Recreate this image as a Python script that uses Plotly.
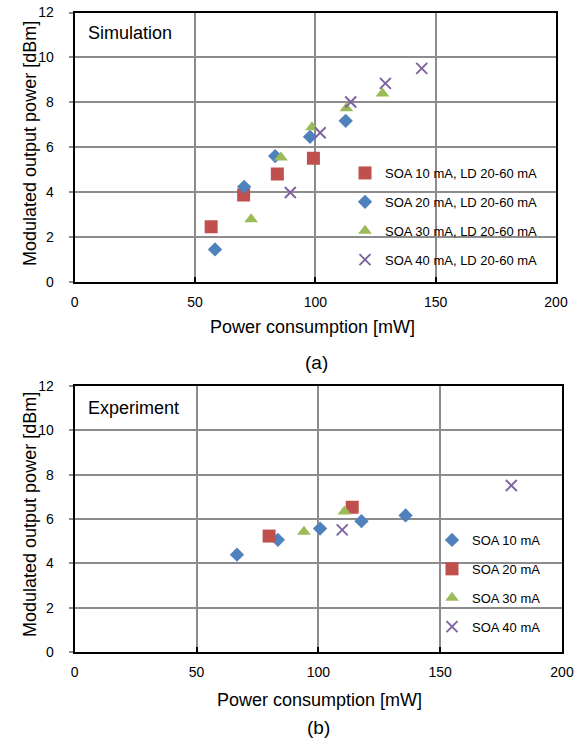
import plotly.graph_objects as go

# ---------------- data: (a) Simulation ----------------
sim_soa10_x = [56.7, 70.2, 84.2, 99.2]
sim_soa10_y = [2.45, 3.86, 4.80, 5.50]
sim_soa20_x = [58.3, 70.4, 83.3, 97.8, 112.6]
sim_soa20_y = [1.44, 4.23, 5.60, 6.46, 7.17]
sim_soa30_x = [73.3, 85.7, 98.6, 112.9, 127.9]
sim_soa30_y = [2.78, 5.54, 6.88, 7.73, 8.39]
sim_soa40_x = [89.6, 102.0, 114.7, 129.1, 144.2]
sim_soa40_y = [3.98, 6.64, 8.01, 8.84, 9.51]

# ---------------- data: (b) Experiment ----------------
exp_soa10_x = [66.6, 83.4, 100.7, 117.7, 135.8]
exp_soa10_y = [4.39, 5.06, 5.57, 5.90, 6.16]
exp_soa20_x = [79.8, 113.9]
exp_soa20_y = [5.23, 6.53]
exp_soa30_x = [94.1, 110.7]
exp_soa30_y = [5.42, 6.34]
exp_soa40_x = [109.8, 179.2]
exp_soa40_y = [5.51, 7.51]

sim_names = ["SOA 10 mA, LD 20-60 mA", "SOA 20 mA, LD 20-60 mA",
             "SOA 30 mA, LD 20-60 mA", "SOA 40 mA, LD 20-60 mA"]
exp_names = ["SOA 10 mA", "SOA 20 mA", "SOA 30 mA", "SOA 40 mA"]

x_ticks = [0, 50, 100, 150, 200]
y_ticks = [0, 2, 4, 6, 8, 10, 12]

x_title = "Power consumption [mW]"
y_title = "Modulated output power [dBm]"

RED = "#C0504D"
BLUE = "#4F81BD"
GREEN = "#9BBB59"
PURPLE = "#8064A2"

FONT = "Liberation Sans, Arial, sans-serif"

def mk(sym, color, size):
    if sym == "x-thin":
        return dict(symbol=sym, size=size, color=color, line=dict(color=color, width=2))
    return dict(symbol=sym, size=size, color=color, line=dict(width=0))

fig = go.Figure()

sim = [
    (sim_soa10_x, sim_soa10_y, "square", RED, 13),
    (sim_soa20_x, sim_soa20_y, "diamond", BLUE, 11),
    (sim_soa30_x, sim_soa30_y, "triangle-up", GREEN, 12),
    (sim_soa40_x, sim_soa40_y, "x-thin", PURPLE, 11),
]
for i, (xs, ys, sym, col, sz) in enumerate(sim):
    fig.add_trace(go.Scatter(x=xs, y=ys, mode="markers", name=sim_names[i],
                             marker=mk(sym, col, sz), xaxis="x", yaxis="y",
                             legend="legend", legendgroup="s%d" % i))

exp = [
    (exp_soa10_x, exp_soa10_y, "diamond", BLUE, 11),
    (exp_soa20_x, exp_soa20_y, "square", RED, 13),
    (exp_soa30_x, exp_soa30_y, "triangle-up", GREEN, 12),
    (exp_soa40_x, exp_soa40_y, "x-thin", PURPLE, 11),
]
for i, (xs, ys, sym, col, sz) in enumerate(exp):
    fig.add_trace(go.Scatter(x=xs, y=ys, mode="markers", name=exp_names[i],
                             marker=mk(sym, col, sz), xaxis="x2", yaxis="y2",
                             legend="legend2", legendgroup="e%d" % i))

W, H = 584, 747

def px_x(p):
    return p / W

def px_y(p):
    return 1 - p / H

axis_common = dict(showline=True, linecolor="black", linewidth=2, mirror=True,
                   showgrid=True, gridcolor="#8c8c8c", gridwidth=2, automargin=False,
                   zeroline=False, tickfont=dict(family=FONT, size=14, color="black"))

def ann(text, x, y, size, angle=0, xanchor="center"):
    return dict(text=text, x=px_x(x), y=px_y(y), xref="paper", yref="paper",
                xanchor=xanchor, yanchor="middle", showarrow=False, textangle=angle,
                font=dict(family=FONT, size=size, color="black"))

fig.update_layout(
    width=W, height=H,
    margin=dict(l=0, r=0, t=0, b=0, autoexpand=False),
    paper_bgcolor="white", plot_bgcolor="white",
    font=dict(family=FONT, color="black"),
    xaxis=dict(domain=[px_x(74.7), px_x(556)], range=[0, 200], tickvals=x_ticks,
               anchor="y", ticks="inside", ticklen=5, tickcolor="black", tickwidth=2,
               ticklabelstandoff=6, **axis_common),
    yaxis=dict(domain=[px_y(281.7), px_y(12.5)], range=[0, 12], tickvals=y_ticks,
               anchor="x", ticks="outside", ticklen=4, tickcolor="#8c8c8c", tickwidth=2,
               ticklabelstandoff=12, **axis_common),
    xaxis2=dict(domain=[px_x(74.7), px_x(562)], range=[0, 200], tickvals=x_ticks,
                anchor="y2", ticks="inside", ticklen=5, tickcolor="black", tickwidth=2,
                ticklabelstandoff=6, **axis_common),
    yaxis2=dict(domain=[px_y(652), px_y(386)], range=[0, 12], tickvals=y_ticks,
                anchor="x2", ticks="outside", ticklen=4, tickcolor="#8c8c8c", tickwidth=2,
                ticklabelstandoff=12, **axis_common),
    legend=dict(x=px_x(345), y=px_y(158), xanchor="left", yanchor="top",
                bgcolor="rgba(0,0,0,0)", borderwidth=0, tracegroupgap=9,
                font=dict(family=FONT, size=13, color="black")),
    legend2=dict(x=px_x(432), y=px_y(525), xanchor="left", yanchor="top",
                 bgcolor="rgba(0,0,0,0)", borderwidth=0, tracegroupgap=9,
                 font=dict(family=FONT, size=13, color="black")),
    showlegend=True,
    annotations=[
        ann("Simulation", 86, 33, 18, xanchor="left"),
        ann("Experiment", 86, 408, 18, xanchor="left"),
        ann(x_title, 312, 327, 18),
        ann(x_title, 319, 700, 18),
        ann(y_title, 30, 144, 18, angle=-90),
        ann(y_title, 30, 515, 18, angle=-90),
        ann("(a)", 316, 362, 19),
        ann("(b)", 318, 727, 19),
    ],
)

fig.write_html("out.html", config={"displayModeBar": False},
               post_script="document.body.style.margin='0';")
